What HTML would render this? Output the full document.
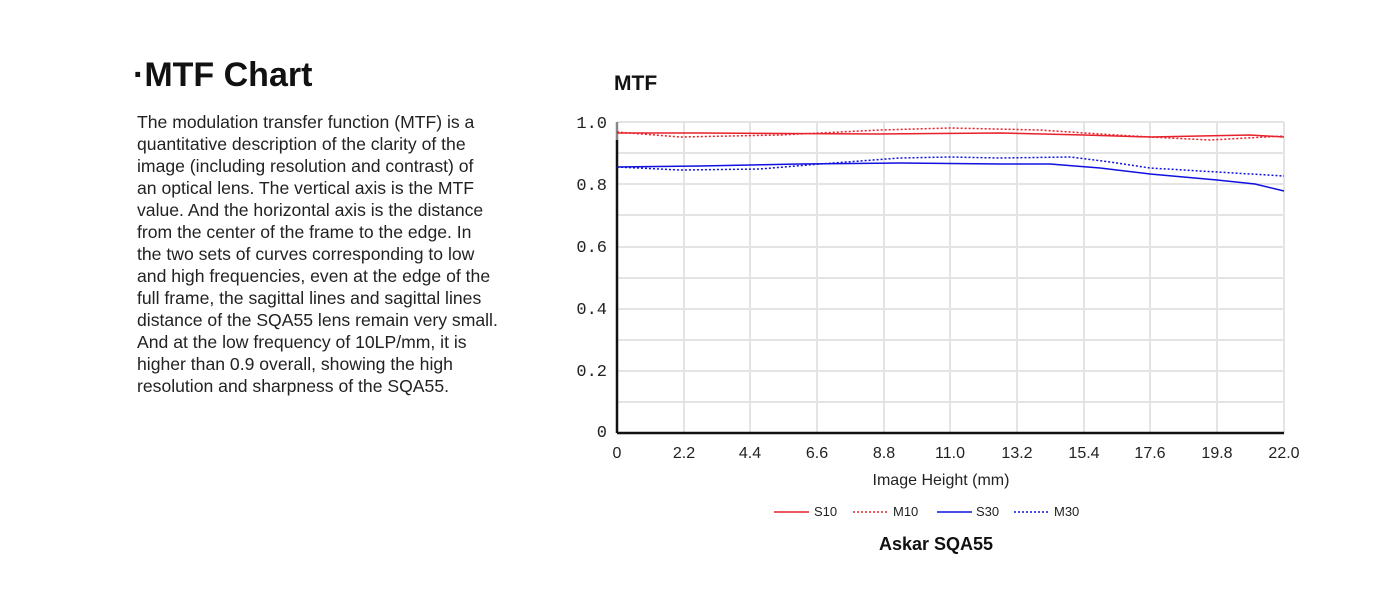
<!DOCTYPE html>
<html><head><meta charset="utf-8"><style>
body{margin:0;width:1400px;height:602px;background:#fff;overflow:hidden;font-family:"Liberation Sans",sans-serif;}
h1{position:absolute;left:133px;top:56px;margin:0;font-size:34px;font-weight:bold;color:#111;}
p{position:absolute;left:137px;top:111px;margin:0;font-size:17.6px;line-height:22px;color:#222;white-space:nowrap;}
</style></head><body>
<h1>·MTF Chart</h1>
<p>The modulation transfer function (MTF) is a<br>quantitative description of the clarity of the<br>image (including resolution and contrast) of<br>an optical lens. The vertical axis is the MTF<br>value. And the horizontal axis is the distance<br>from the center of the frame to the edge. In<br>the two sets of curves corresponding to low<br>and high frequencies, even at the edge of the<br>full frame, the sagittal lines and sagittal lines<br>distance of the SQA55 lens remain very small.<br>And at the low frequency of 10LP/mm, it is<br>higher than 0.9 overall, showing the high<br>resolution and sharpness of the SQA55.</p>
<svg width="1400" height="602" style="position:absolute;left:0;top:0" xmlns="http://www.w3.org/2000/svg">
<text x="614" y="90" font-size="21" font-weight="bold" fill="#111">MTF</text>
<g stroke="#e4e4e4" stroke-width="2">
<line x1="617" y1="122" x2="1284" y2="122"/><line x1="617" y1="153" x2="1284" y2="153"/><line x1="617" y1="184" x2="1284" y2="184"/><line x1="617" y1="215" x2="1284" y2="215"/><line x1="617" y1="247" x2="1284" y2="247"/><line x1="617" y1="278" x2="1284" y2="278"/><line x1="617" y1="309" x2="1284" y2="309"/><line x1="617" y1="340" x2="1284" y2="340"/><line x1="617" y1="371" x2="1284" y2="371"/><line x1="617" y1="402" x2="1284" y2="402"/>
<line x1="684" y1="122" x2="684" y2="433"/><line x1="750" y1="122" x2="750" y2="433"/><line x1="817" y1="122" x2="817" y2="433"/><line x1="884" y1="122" x2="884" y2="433"/><line x1="950" y1="122" x2="950" y2="433"/><line x1="1017" y1="122" x2="1017" y2="433"/><line x1="1084" y1="122" x2="1084" y2="433"/><line x1="1150" y1="122" x2="1150" y2="433"/><line x1="1217" y1="122" x2="1217" y2="433"/><line x1="1284" y1="122" x2="1284" y2="433"/>
</g>
<line x1="617" y1="140" x2="617" y2="433" stroke="#111" stroke-width="2.5"/>
<line x1="617" y1="122" x2="617" y2="140" stroke="#888" stroke-width="2.5"/>
<line x1="617" y1="433" x2="1284" y2="433" stroke="#111" stroke-width="2.5"/>
<g font-family="Liberation Mono,monospace" font-size="17" fill="#222" text-anchor="end">
<text x="607" y="128">1.0</text><text x="607" y="190">0.8</text><text x="607" y="252">0.6</text><text x="607" y="314">0.4</text><text x="607" y="376">0.2</text><text x="607" y="437">0</text>
</g>
<g font-size="16" fill="#222" text-anchor="middle">
<text x="617" y="458">0</text><text x="684" y="458">2.2</text><text x="750" y="458">4.4</text><text x="817" y="458">6.6</text><text x="884" y="458">8.8</text><text x="950" y="458">11.0</text><text x="1017" y="458">13.2</text><text x="1084" y="458">15.4</text><text x="1150" y="458">17.6</text><text x="1217" y="458">19.8</text><text x="1284" y="458">22.0</text>
<text x="941" y="485">Image Height (mm)</text>
</g>
<g fill="none" stroke-width="1.5">
<path d="M617,133 L700,133 L880,134 L1000,133 L1084,135 L1150,137 L1200,136 L1250,135 L1284,137" stroke="#e8202a"/>
<path d="M617,132 L680,137 L780,135 L880,130 L950,128 L1040,130 L1100,134 L1150,137 L1210,140 L1284,136" stroke="#e8202a" stroke-dasharray="2,2"/>
<path d="M617,167 L700,166 L800,164 L900,163 L1000,164 L1050,164 L1100,168 L1150,174 L1217,180 L1255,184 L1284,191" stroke="#1010e0"/>
<path d="M617,167 L680,170 L760,169 L820,164 L900,158 L950,157 L1000,158 L1070,157 L1110,162 L1150,168 L1217,172 L1284,176" stroke="#1010e0" stroke-dasharray="2,2"/>
</g>
<g stroke-width="1.5">
<line x1="774" y1="512" x2="809" y2="512" stroke="#e8202a"/>
<line x1="853" y1="512" x2="889" y2="512" stroke="#e8202a" stroke-dasharray="2,2"/>
<line x1="937" y1="512" x2="972" y2="512" stroke="#1010e0"/>
<line x1="1014" y1="512" x2="1050" y2="512" stroke="#1010e0" stroke-dasharray="2,2"/>
</g>
<g font-size="13" fill="#222">
<text x="814" y="516">S10</text><text x="893" y="516">M10</text><text x="976" y="516">S30</text><text x="1054" y="516">M30</text>
</g>
<text x="936" y="550" font-size="18" font-weight="bold" fill="#111" text-anchor="middle">Askar SQA55</text>
</svg>
</body></html>
